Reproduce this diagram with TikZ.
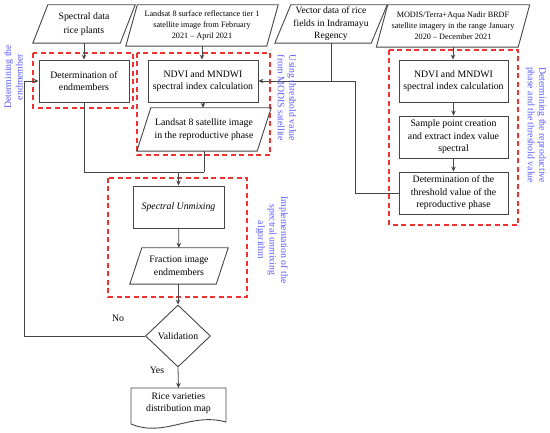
\documentclass[tikz,border=0pt]{standalone}
\usepackage{fontspec}
\setmainfont{Liberation Serif}
\usetikzlibrary{arrows.meta,shapes.geometric}
\definecolor{boxc}{RGB}{70,70,70}
\definecolor{redc}{RGB}{240,50,50}
\definecolor{bluec}{RGB}{90,90,255}
\tikzset{
 bx/.style={draw=boxc, line width=0.9pt},
 rbox/.style={bx, rectangle, align=center, font=\fontsize{9.8}{12.5}\selectfont, inner sep=1pt},
 ptxt/.style={align=center, inner sep=0pt, font=\fontsize{9.8}{13}\selectfont},
 small/.style={font=\fontsize{8.2}{11}\selectfont},
 conn/.style={draw=boxc, line width=0.8pt},
 arr/.style={conn, -{Stealth[length=5pt,width=4.5pt]}},
 grp/.style={draw=redc, line width=1.2pt, dash pattern=on 5pt off 3.5pt},
 note/.style={text=bluec, align=center, font=\fontsize{9.8}{11.5}\selectfont},
 lbl/.style={inner sep=0pt, font=\fontsize{9.8}{12}\selectfont},
}
\begin{document}
\begin{tikzpicture}[x=1pt,y=-1pt]
\useasboundingbox (0,0) rectangle (550,433);

% red dashed groups
\draw[grp] (33,53) rectangle (133,108);
\draw[grp] (137,53) rectangle (270,155);
\draw[grp] (108,178) rectangle (247,297);
\draw[grp] (389,50) rectangle (518,225);

% top parallelograms
\node[ptxt, minimum width=87pt, minimum height=38pt, font=\fontsize{9.8}{14}\selectfont] (sd) at (84,24) {Spectral data\\rice plants};
\draw[bx] ([xshift=-7.5pt]sd.south west) -- ([xshift=7.5pt]sd.north west) -- ([xshift=7.5pt]sd.north east) -- ([xshift=-7.5pt]sd.south east) -- cycle;

\node[ptxt, small, minimum width=140.5pt, minimum height=41pt] (ls) at (202,25.5) {Landsat 8 surface reflectance tier 1\\satellite image from February\\2021 -- April 2021};
\draw[bx] ([xshift=-5.75pt]ls.south west) -- ([xshift=5.75pt]ls.north west) -- ([xshift=5.75pt]ls.north east) -- ([xshift=-5.75pt]ls.south east) -- cycle;

\node[ptxt, minimum width=96pt, minimum height=38pt, font=\fontsize{9.6}{12.5}\selectfont] (vd) at (331,24) {Vector data of rice\\fields in Indramayu\\Regency};
\draw[bx] ([xshift=-8pt]vd.south west) -- ([xshift=8pt]vd.north west) -- ([xshift=8pt]vd.north east) -- ([xshift=-8pt]vd.south east) -- cycle;

\node[ptxt, small, minimum width=141.5pt, minimum height=42pt] (md) at (453,26) {MODIS/Terra+Aqua Nadir BRDF\\satellite imagery in the range January\\2020 -- December 2021};
\draw[bx] ([xshift=-5.75pt]md.south west) -- ([xshift=5.75pt]md.north west) -- ([xshift=5.75pt]md.north east) -- ([xshift=-5.75pt]md.south east) -- cycle;

% left / middle column
\node[rbox, minimum width=90pt, minimum height=42pt] (de) at (84,81) {Determination of\\endmembers};
\node[rbox, minimum width=110pt, minimum height=42pt] (n1) at (203,81) {NDVI and MNDWI\\spectral index calculation};

\node[ptxt, minimum width=120pt, minimum height=43pt] (li) at (204,129.5) {Landsat 8 satellite image\\in the reproductive phase};
\draw[bx] ([xshift=-7pt]li.south west) -- ([xshift=7pt]li.north west) -- ([xshift=7pt]li.north east) -- ([xshift=-7pt]li.south east) -- cycle;

\node[rbox, minimum width=91pt, minimum height=42pt] (su) at (178.5,207) {\itshape Spectral Unmixing};

\node[ptxt, minimum width=86pt, minimum height=36pt] (fi) at (179,266) {Fraction image\\endmembers};
\draw[bx] ([xshift=-6pt]fi.south west) -- ([xshift=6pt]fi.north west) -- ([xshift=6pt]fi.north east) -- ([xshift=-6pt]fi.south east) -- cycle;

\node[bx, diamond, minimum width=65pt, minimum height=62pt, inner sep=0pt, font=\fontsize{9.8}{12}\selectfont] (va) at (178,336) {Validation};

\node[ptxt, minimum width=95pt, minimum height=34pt, font=\fontsize{9.8}{12}\selectfont] (rv) at (178.5,403) {Rice varieties\\distribution map};
\draw[bx] (131,424) -- (131,388) -- (226,388) -- (226,422) .. controls (190,412) and (165,438) .. (131,424);

% right column
\node[rbox, minimum width=109pt, minimum height=42pt] (m1) at (453.5,81) {NDVI and MNDWI\\spectral index calculation};
\node[rbox, minimum width=109pt, minimum height=42pt] (m2) at (453.5,137) {Sample point creation\\and extract index value\\spectral};
\node[rbox, minimum width=109pt, minimum height=42pt] (m3) at (453.5,193) {Determination of the\\threshold value of the\\reproductive phase};

% connectors
\draw[arr] (sd.south) -- (de.north);
\draw[arr] (ls.south) -- (ls.south |- n1.north);
\draw[arr] (md.south) -- (md.south |- m1.north);
\draw[arr] (n1.south) -- (n1.south |- li.north);
\draw[arr] (m1) -- (m2);
\draw[arr] (m2) -- (m3);
\draw[conn] (vd.south) -- (vd.south |- n1.east);
\draw[arr] (m3.west) -- ++(-43,0) |- (n1.east);
\coordinate (mj) at (178.5,172);
\draw[conn] (de.south) |- (li.south |- mj);
\draw[conn] (li.south) -- (li.south |- mj);
\draw[arr] (mj) -- (su.north);
\draw[arr] (su) -- (fi);
\draw[arr] (fi.south) -- (fi.south -| va.north) -- (va.north);
\draw[arr] (va.south) -- (rv.north |- 0,388);
\draw[arr] (va.west) -- ++(-121,0) |- (de.west);

\node[lbl] (no) at (118,318) {No};
\node[lbl] (yes) at (157,370) {Yes};

% blue notes
\node[note, rotate=90] (t1) at (13.5,77) {Determining the\\endmember};
\node[note, rotate=-90] (t2) at (287,98) {Using threshold value\\from MODIS satellite};
\node[note, rotate=-90] (t3) at (272,240) {Implementation of the\\spectral unmixing\\algorithm};
\node[note, rotate=-90] (t4) at (536,125) {Determining the reproductive\\phase and the threshold value};
\end{tikzpicture}
\end{document}
